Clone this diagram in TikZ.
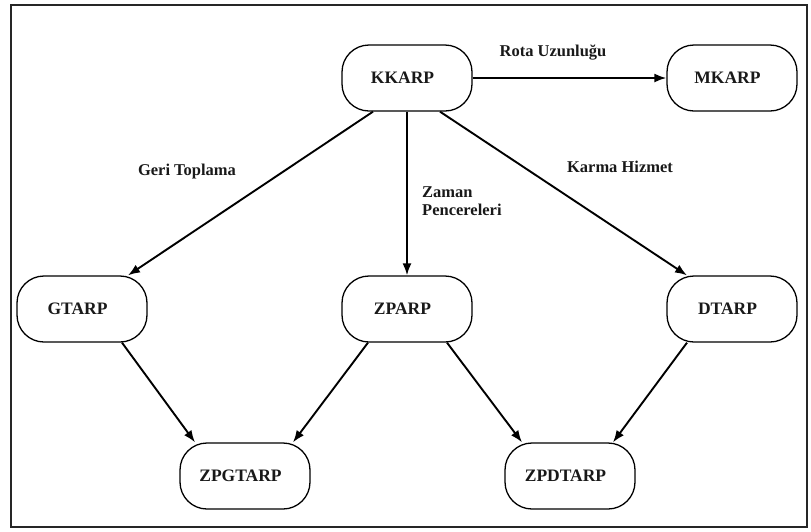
\documentclass[tikz,border=0pt]{standalone}
\usepackage{fontspec}
\setmainfont{Liberation Serif}
\usetikzlibrary{arrows.meta}
\begin{document}
\begin{tikzpicture}[x=1pt,y=-1pt,
  box/.style={draw, line width=1.3pt, rounded corners=27pt, minimum width=130pt,
    minimum height=66pt, inner sep=0pt, text=black!90,
    font=\fontsize{17.5}{20}\selectfont\bfseries,
    execute at end node={\hspace{9pt}}},
  lbl/.style={inner sep=0pt, text=black!90, font=\fontsize{16.5}{17.5}\selectfont\bfseries},
  link/.style={line width=1.9pt, -{Latex[length=12pt,width=9pt]}},
  frame/.style={draw=black!85, line width=2.5pt}
]
\useasboundingbox (0,0) rectangle (811,531);
\draw[frame] (11,5) rectangle (807,527);

% problem variants
\node[box] (kk) at (407,78)  {KKARP};
\node[box] (mk) at (732,78)  {MKARP};
\node[box] (gt) at (82,309)  {GTARP};
\node[box] (zp) at (407,309) {ZPARP};
\node[box] (dt) at (732,309) {DTARP};
\node[box] (zg) at (245,476) {ZPGTARP};
\node[box] (zd) at (570,476) {ZPDTARP};

% extensions
\draw[link] (kk.east) -- (mk.west);
\draw[link] ([xshift=-34pt]kk.south) -- ([xshift=46pt]gt.north);
\draw[link] (kk.south) -- (zp.north);
\draw[link] ([xshift=33pt]kk.south) -- ([xshift=-45pt]dt.north);

\draw[link] ([xshift=40pt]gt.south) -- ([xshift=-50pt]zg.north);
\draw[link] ([xshift=-39pt]zp.south) -- ([xshift=48pt]zg.north);
\draw[link] ([xshift=40pt]zp.south) -- ([xshift=-48pt]zd.north);
\draw[link] ([xshift=-45pt]dt.south) -- ([xshift=43pt]zd.north);

% edge labels
\node[lbl] (l1) at (553,53) {Rota Uzunluğu};
\node[lbl] (l2) at (187,172) {Geri Toplama};
\node[lbl, anchor=west, align=left] (l3) at (422,201) {Zaman\\Pencereleri};
\node[lbl] (l4) at (620,167) {Karma Hizmet};
\end{tikzpicture}
\end{document}
